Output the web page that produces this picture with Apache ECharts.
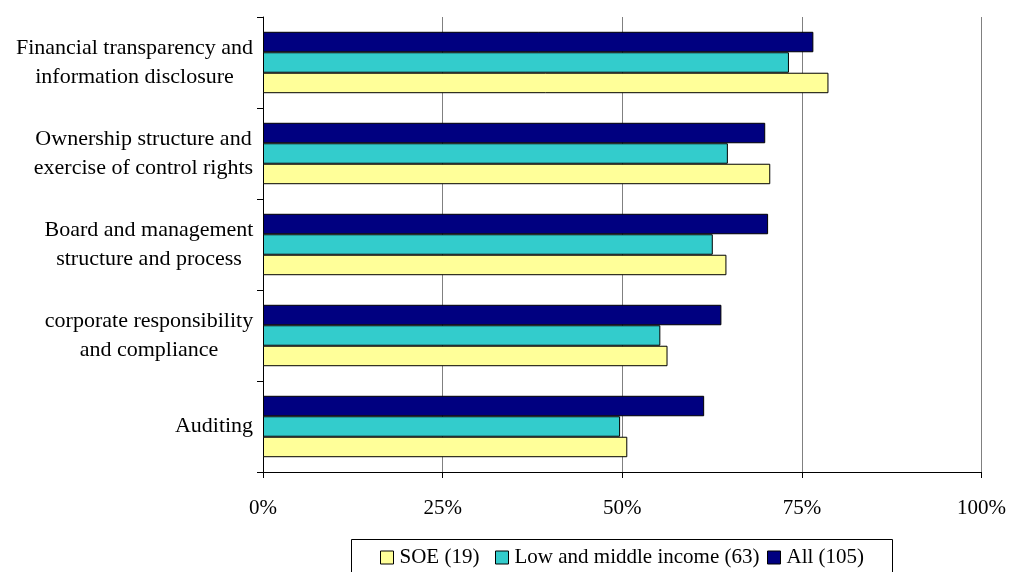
<!DOCTYPE html>
<html>
<head>
<meta charset="utf-8">
<script src="https://cdn.jsdelivr.net/npm/echarts@6/dist/echarts.min.js"></script>
<style>
  html, body { margin: 0; padding: 0; background: #fff; }
  #chart { width: 1009px; height: 572px; }
</style>
</head>
<body>
<div id="chart"></div>
<script>
// Governance areas, listed top to bottom
const categories = [
  'Financial transparency and\ninformation disclosure',
  'Ownership structure and\nexercise of control rights',
  'Board and management\nstructure and process',
  'corporate responsibility\nand compliance',
  'Auditing'
];
// Share of respondents per group (%)
const allValues = [76.6, 69.9, 70.3, 63.8, 61.4];
const lowMiddleValues = [73.2, 64.7, 62.6, 55.3, 49.7];
const soeValues = [78.7, 70.6, 64.5, 56.3, 50.7];
const xTicks = [0, 25, 50, 75, 100];
const seriesNames = ['All (105)', 'Low and middle income (63)', 'SOE (19)'];

const serif = '"Liberation Serif", "Times New Roman", serif';
const colors = { all: '#000080', low: '#33CCCC', soe: '#FFFF99' };

// Each category label is a centred block; measure its widest line
const ctx = document.createElement('canvas').getContext('2d');
ctx.font = '22px ' + serif;
const rich = {};
categories.forEach((c, i) => {
  const w = Math.max(...c.split('\n').map(l => ctx.measureText(l).width));
  rich['c' + i] = {
    width: Math.ceil(w) + 1, align: 'center', fontSize: 22, lineHeight: 29,
    fontFamily: serif, color: '#000'
  };
});

const barStyle = (color) => ({ color: color, borderColor: '#000', borderWidth: 1 });

const chart = echarts.init(document.getElementById('chart'), null, { renderer: 'canvas' });
chart.setOption({
  animation: false,
  backgroundColor: '#fff',
  textStyle: { fontFamily: serif },
  grid: { left: 263, top: 17, width: 720, height: 455, containLabel: false },
  xAxis: {
    type: 'value', min: xTicks[0], max: xTicks[xTicks.length - 1], interval: 25,
    axisLine: { show: true, lineStyle: { color: '#000', width: 1 } },
    axisTick: { show: true, length: 6, lineStyle: { color: '#000' } },
    splitLine: { show: true, lineStyle: { color: '#808080', width: 1 } },
    axisLabel: {
      formatter: '{value}%', margin: 26, color: '#000', fontSize: 21, fontFamily: serif
    }
  },
  yAxis: {
    type: 'category', data: categories, inverse: true,
    axisLine: { show: true, lineStyle: { color: '#000', width: 1 } },
    axisTick: { show: true, length: 6, lineStyle: { color: '#000' } },
    splitLine: { show: false },
    axisLabel: {
      margin: 9, align: 'right',
      formatter: (v, i) => v.split('\n').map(l => '{c' + i + '|' + l + '}').join('\n'),
      rich: rich
    }
  },
  legend: [
    { data: [seriesNames[2]], left: 380, top: 547 },
    { data: [seriesNames[1]], left: 495, top: 547 },
    { data: [seriesNames[0]], left: 767, top: 547 }
  ].map(l => Object.assign(l, {
    orient: 'horizontal', padding: 0, icon: 'rect', itemWidth: 13, itemHeight: 13,
    itemStyle: { borderColor: '#000', borderWidth: 1 },
    textStyle: { fontSize: 21, fontFamily: serif, color: '#000', padding: [0, 0, 0, 1] },
    selectedMode: false
  })),
  graphic: [{
    type: 'rect', left: 351, top: 539, z: -1,
    shape: { width: 541, height: 50 },
    style: { fill: '#fff', stroke: '#000', lineWidth: 1 }
  }],
  series: [
    { name: seriesNames[0], type: 'bar', data: allValues, itemStyle: barStyle(colors.all),
      barGap: '0%', barCategoryGap: '32.5%' },
    { name: seriesNames[1], type: 'bar', data: lowMiddleValues, itemStyle: barStyle(colors.low),
      barGap: '0%', barCategoryGap: '32.5%' },
    { name: seriesNames[2], type: 'bar', data: soeValues, itemStyle: barStyle(colors.soe),
      barGap: '0%', barCategoryGap: '32.5%' }
  ]
});
</script>
</body>
</html>
